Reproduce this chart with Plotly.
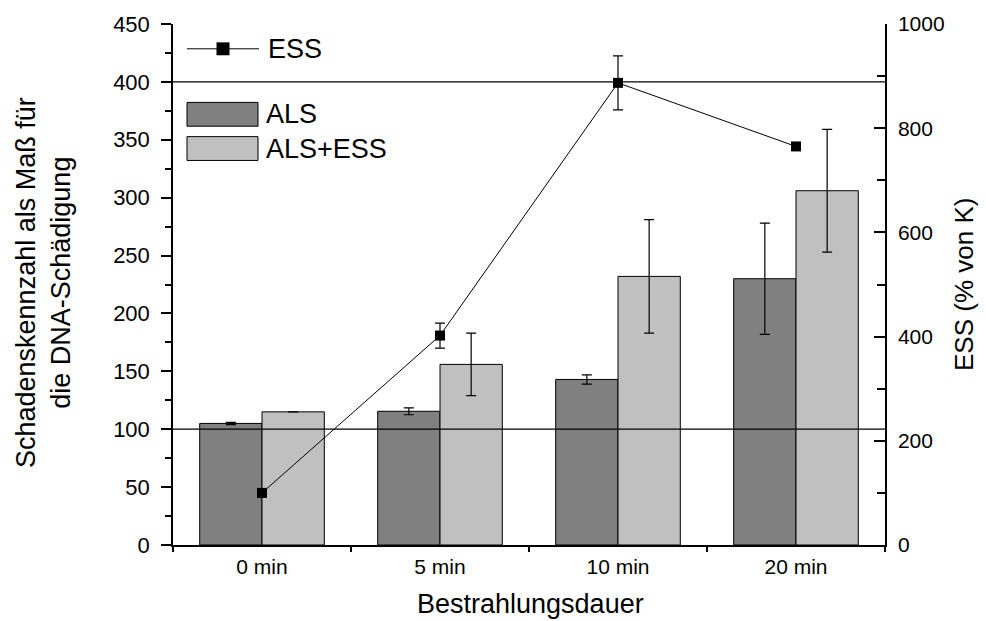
import plotly.graph_objects as go

# Irradiation durations (x categories)
categories = ["0 min", "5 min", "10 min", "20 min"]

# Damage index (left axis)
als = [105, 115.5, 143, 230]
als_err = [1, 3, 4, 48]
als_ess = [115, 156, 232, 306]
als_ess_err = [None, 27, 49, 53]

# ESS in % of control (right axis)
ess = [100, 402, 887, 765]
ess_err = [None, 24, 52, None]

# Reference levels on the left axis
ref_levels = [100, 400]

FONT = "Liberation Sans, Arial, sans-serif"
W, H = 986, 621
L, R, T, B = 173, 101, 20, 76
PW, PH = W - L - R, H - T - B


def px(x):
    return (x - L) / PW


def py(y):
    return (H - B - y) / PH


fig = go.Figure()

fig.add_trace(go.Bar(
    x=categories, y=als, name="ALS",
    marker=dict(color="#808080", line=dict(color="#000000", width=1)),
    error_y=dict(type="data", array=als_err, visible=True,
                 color="#000000", thickness=1.2, width=5),
    showlegend=False,
))
fig.add_trace(go.Bar(
    x=categories, y=als_ess, name="ALS+ESS",
    marker=dict(color="#c0c0c0", line=dict(color="#000000", width=1)),
    error_y=dict(type="data", array=als_ess_err, visible=True,
                 color="#000000", thickness=1.2, width=5),
    showlegend=False,
))
fig.add_trace(go.Scatter(
    x=categories, y=ess, name="ESS", yaxis="y2",
    mode="lines+markers",
    line=dict(color="#000000", width=1),
    marker=dict(symbol="square", size=10, color="#000000"),
    error_y=dict(type="data", array=ess_err, visible=True,
                 color="#000000", thickness=1.2, width=5),
    showlegend=False,
))

shapes = []
for lvl in ref_levels:
    shapes.append(dict(type="line", xref="paper", yref="y", x0=0, x1=1,
                       y0=lvl, y1=lvl, line=dict(color="#000000", width=1.2),
                       layer="above"))

# Hand-drawn legend
shapes.append(dict(type="line", xref="paper", yref="paper",
                   x0=px(187), x1=px(259), y0=py(45), y1=py(45),
                   line=dict(color="#000000", width=1)))
shapes.append(dict(type="rect", xref="paper", yref="paper",
                   x0=px(216.5), x1=px(229.5), y0=py(38.5), y1=py(51.5),
                   fillcolor="#000000", line=dict(width=0)))
shapes.append(dict(type="rect", xref="paper", yref="paper",
                   x0=px(187), x1=px(258), y0=py(99), y1=py(123),
                   fillcolor="#808080", line=dict(color="#000000", width=1)))
shapes.append(dict(type="rect", xref="paper", yref="paper",
                   x0=px(187), x1=px(258), y0=py(133.5), y1=py(157.5),
                   fillcolor="#c0c0c0", line=dict(color="#000000", width=1)))

annotations = [
    dict(text="ESS", xref="paper", yref="paper", x=px(266), y=py(45),
         xanchor="left", yanchor="middle", showarrow=False,
         font=dict(family=FONT, size=27, color="#000000")),
    dict(text="ALS", xref="paper", yref="paper", x=px(264), y=py(111),
         xanchor="left", yanchor="middle", showarrow=False,
         font=dict(family=FONT, size=27, color="#000000")),
    dict(text="ALS+ESS", xref="paper", yref="paper", x=px(264), y=py(145.5),
         xanchor="left", yanchor="middle", showarrow=False,
         font=dict(family=FONT, size=27, color="#000000")),
    dict(text="Schadenskennzahl als Maß für<br>die DNA-Schädigung",
         xref="paper", yref="paper", x=px(43), y=py(281),
         xanchor="center", yanchor="middle", textangle=-90, showarrow=False,
         font=dict(family=FONT, size=27, color="#000000")),
    dict(text="ESS (% von K)", xref="paper", yref="paper", x=px(964), y=py(282),
         xanchor="center", yanchor="middle", textangle=-90, showarrow=False,
         font=dict(family=FONT, size=26, color="#000000")),
    dict(text="Bestrahlungsdauer", xref="paper", yref="paper", x=px(530), y=py(604),
         xanchor="center", yanchor="middle", showarrow=False,
         font=dict(family=FONT, size=27, color="#000000")),
]

fig.update_layout(
    width=W, height=H,
    margin=dict(l=L, r=R, t=T, b=B, pad=0),
    paper_bgcolor="#ffffff", plot_bgcolor="#ffffff",
    barmode="group", bargap=0.3, bargroupgap=0,
    font=dict(family=FONT, color="#000000"),
    shapes=shapes, annotations=annotations,
    xaxis=dict(
        type="category", range=[-0.5, 3.5],
        showline=True, linecolor="#000000", linewidth=1.5,
        ticks="outside", tickson="boundaries", ticklen=5, tickwidth=1.5,
        tickcolor="#000000", showgrid=False, zeroline=False,
        tickfont=dict(family=FONT, size=21, color="#000000"),
        ticklabelstandoff=2,
    ),
    yaxis=dict(
        range=[0, 450], dtick=50, tick0=0,
        showline=True, linecolor="#000000", linewidth=1.5,
        ticks="outside", ticklen=10, tickwidth=1.5, tickcolor="#000000",
        minor=dict(dtick=25, ticks="outside", ticklen=6, tickwidth=1.5,
                   tickcolor="#000000", showgrid=False),
        showgrid=False, zeroline=False,
        tickfont=dict(family=FONT, size=22, color="#000000"),
        ticklabelstandoff=7,
    ),
    yaxis2=dict(
        range=[0, 1000], dtick=200, tick0=0, overlaying="y", side="right",
        showline=True, linecolor="#000000", linewidth=1.5,
        ticks="inside", ticklen=11, tickwidth=1.5, tickcolor="#000000",
        minor=dict(dtick=100, ticks="inside", ticklen=8, tickwidth=1.5,
                   tickcolor="#000000", showgrid=False),
        showgrid=False, zeroline=False,
        tickfont=dict(family=FONT, size=21, color="#000000"),
        ticklabelstandoff=7,
    ),
)

fig.write_html("out.html")
